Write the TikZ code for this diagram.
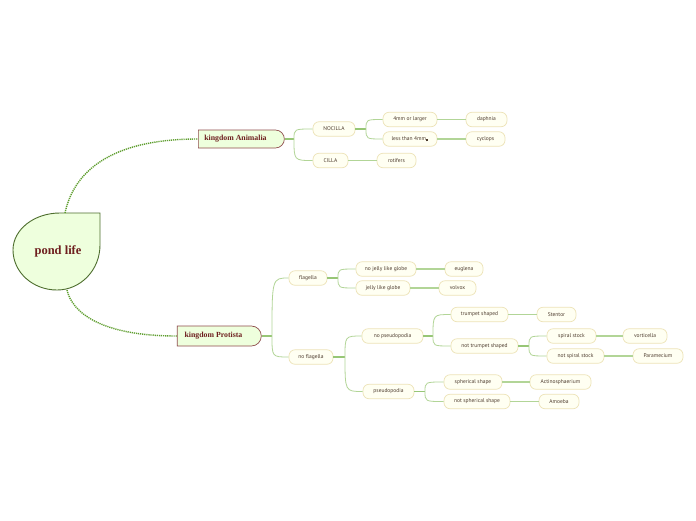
\documentclass[tikz,border=0pt]{standalone}
\usepackage{fontspec}
\setmainfont{Liberation Serif}
\newfontfamily\leaffont{PT Sans}
\usetikzlibrary{shapes.misc}
\definecolor{leaffill}{HTML}{FFFFF2}
\definecolor{leafborder}{HTML}{EDE3B8}
\definecolor{leaftext}{HTML}{4D3B2D}
\definecolor{kfill}{HTML}{EEFFDD}
\definecolor{kborder}{HTML}{8E4C4C}
\definecolor{ktext}{HTML}{6E1F1F}
\definecolor{rootborder}{HTML}{4E6E2E}
\definecolor{dotgreen}{HTML}{5E9E2E}
\definecolor{branch}{HTML}{B2D597}
\definecolor{stub}{HTML}{97C676}
\tikzset{
 leaf/.style={draw=leafborder, fill=leaffill, rounded corners=6pt, minimum height=14.5pt, inner sep=0pt, font=\leaffont\fontsize{5.5}{6}\selectfont, text=leaftext, line width=0.7pt},
 kingdom/.style={draw=kborder, fill=kfill, rounded rectangle, rounded rectangle west arc=none, minimum height=18pt, inner sep=0pt, font=\bfseries\fontsize{7.8}{9}\selectfont, text=ktext, line width=0.7pt},
 dotline/.style={draw=dotgreen, line width=1.4pt, dash pattern=on 1.2pt off 0.9pt},
 curve/.style={draw=branch, line width=0.8pt},
 stubline/.style={draw=stub, line width=1.5pt},
 single/.style={draw=branch, line width=1.5pt},
}
\begin{document}
\begin{tikzpicture}[x=1pt,y=-1pt]
\fill[white] (0,0) rectangle (696,520);
\useasboundingbox (0,0) rectangle (696,520);
% root
\draw[rootborder, fill=kfill, line width=0.9pt] (100,213) -- (100,245)
  .. controls (100,269.9) and (80.7,290) .. (57,290)
  .. controls (32.7,290) and (13,272.1) .. (13,250)
  .. controls (13,229.6) and (34,213) .. (60,213) -- cycle;
\node[inner sep=0pt, minimum width=87pt, minimum height=77pt, font=\bfseries\fontsize{12.5}{14}\selectfont, text=ktext] (root) at (58,251.5) {pond life};
\coordinate (rtop) at (65,213);
\coordinate (rbot) at (67,290);
% kingdoms
\node[kingdom, minimum width=86pt] (animalia) at (241,139) {\hspace*{-11pt}kingdom Animalia};
\node[kingdom, minimum width=84pt, minimum height=20pt] (protista) at (219,336) {\hspace*{-11pt}kingdom Protista};
% leaves animalia
\node[leaf, minimum width=42pt] (nocilla) at (334,129) {NOCILLA};
\node[leaf, minimum width=35pt] (cilla) at (330.5,160.5) {CILLA};
\node[leaf, minimum width=54pt] (large) at (410,119.5) {4mm or larger};
\node[leaf, minimum width=54pt] (less) at (410,139) {less than 4mm\rule[-0.8pt]{2.4pt}{2.6pt}};
\node[leaf, minimum width=41pt] (daphnia) at (486.5,119.5) {daphnia};
\node[leaf, minimum width=39pt] (cyclops) at (485.5,139) {cyclops};
\node[leaf, minimum width=39pt] (rotifers) at (396.5,160.5) {rotifers};
% leaves protista
\node[leaf, minimum width=38pt] (flagella) at (308,278) {flagella};
\node[leaf, minimum width=60pt] (nojelly) at (386,269) {no jelly like globe};
\node[leaf, minimum width=54pt] (jelly) at (383,288) {jelly like globe};
\node[leaf, minimum width=38pt] (euglena) at (464,269) {euglena};
\node[leaf, minimum width=37pt] (volvox) at (457.5,288) {volvox};
\node[leaf, minimum width=44pt] (noflag) at (311,357) {no flagella};
\node[leaf, minimum width=61pt] (nopseudo) at (392.5,336) {no pseudopodia};
\node[leaf, minimum width=51pt] (pseudo) at (388.5,391.5) {pseudopodia};
\node[leaf, minimum width=57pt] (trumpet) at (479.5,314.5) {trumpet shaped};
\node[leaf, minimum width=39pt] (stentor) at (556.5,314.5) {Stentor};
\node[leaf, minimum width=67pt] (nottrumpet) at (484.5,346) {not trumpet shaped};
\node[leaf, minimum width=49pt] (spiral) at (571.5,336) {spiral stock};
\node[leaf, minimum width=44pt] (vorticella) at (645,336) {vorticella};
\node[leaf, minimum width=57pt] (notspiral) at (575.5,356) {not spiral stock};
\node[leaf, minimum width=50pt] (paramecium) at (658,356) {Paramecium};
\node[leaf, minimum width=58pt] (spherical) at (473,382) {spherical shape};
\node[leaf, minimum width=61pt] (actino) at (560.5,382) {Actinosphaerium};
\node[leaf, minimum width=66pt] (notspherical) at (477,401.5) {not spherical shape};
\node[leaf, minimum width=40pt] (amoeba) at (559,401.5) {Amoeba};
% dotted main connectors
\draw[dotline] (rtop) .. controls (72,180) and (100,139) .. (animalia.west);
\draw[dotline] (rbot) .. controls (72,312) and (100,336) .. (protista.west);
% forks
\coordinate (fA) at (294,139);
\coordinate (fN) at (366,129);
\coordinate (fP) at (272,336);
\coordinate (fF) at (338,278);
\coordinate (fNF) at (345,357);
\coordinate (fNP) at (433,336);
\coordinate (fNT) at (529,346);
\coordinate (fPs) at (425,391.5);
% stubs
\draw[stubline] (animalia.east) -- (fA);
\draw[stubline] (nocilla.east) -- (fN);
\draw[stubline] (protista.east) -- (fP);
\draw[stubline] (flagella.east) -- (fF);
\draw[stubline] (noflag.east) -- (fNF);
\draw[stubline] (nopseudo.east) -- (fNP);
\draw[stubline] (nottrumpet.east) -- (fNT);
\draw[stubline] (pseudo.east) -- (fPs);
% branch curves
\draw[curve] (fA) .. controls (fA |- nocilla) .. (nocilla.west);
\draw[curve] (fA) .. controls (fA |- cilla) .. (cilla.west);
\draw[curve] (fN) .. controls (fN |- large) .. (large.west);
\draw[curve] (fN) .. controls (fN |- less) .. (less.west);
\draw[curve] (fP) .. controls (fP |- flagella) .. (flagella.west);
\draw[curve] (fP) .. controls (fP |- noflag) .. (noflag.west);
\draw[curve] (fF) .. controls (fF |- nojelly) .. (nojelly.west);
\draw[curve] (fF) .. controls (fF |- jelly) .. (jelly.west);
\draw[curve] (fNF) .. controls (fNF |- nopseudo) .. (nopseudo.west);
\draw[curve] (fNF) .. controls (fNF |- pseudo) .. (pseudo.west);
\draw[curve] (fNP) .. controls (fNP |- trumpet) .. (trumpet.west);
\draw[curve] (fNP) .. controls (fNP |- nottrumpet) .. (nottrumpet.west);
\draw[curve] (fNT) .. controls (fNT |- spiral) .. (spiral.west);
\draw[curve] (fNT) .. controls (fNT |- notspiral) .. (notspiral.west);
\draw[curve] (fPs) .. controls (fPs |- spherical) .. (spherical.west);
\draw[curve] (fPs) .. controls (fPs |- notspherical) .. (notspherical.west);
% single links
\draw[single] (large.east) -- (daphnia.west);
\draw[single] (less.east) -- (cyclops.west);
\draw[single] (cilla.east) -- (rotifers.west);
\draw[single] (nojelly.east) -- (euglena.west);
\draw[single] (jelly.east) -- (volvox.west);
\draw[single] (trumpet.east) -- (stentor.west);
\draw[single] (spiral.east) -- (vorticella.west);
\draw[single] (notspiral.east) -- (paramecium.west);
\draw[single] (spherical.east) -- (actino.west);
\draw[single] (notspherical.east) -- (amoeba.west);
\end{tikzpicture}
\end{document}
